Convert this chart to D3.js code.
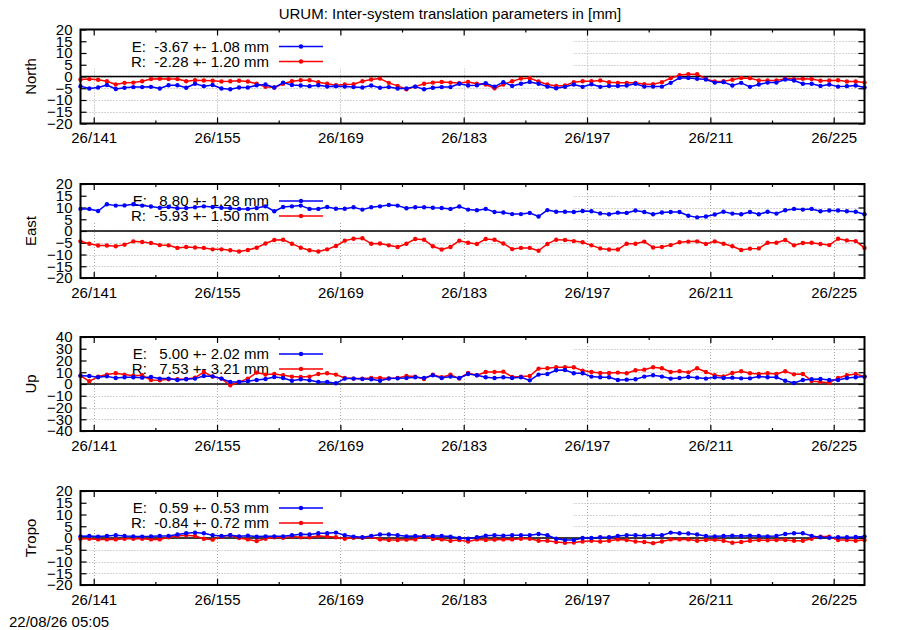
<!DOCTYPE html>
<html><head><meta charset="utf-8">
<script src="https://cdn.jsdelivr.net/npm/d3@7"></script>
<style>
body{margin:0;background:#fff}
svg{display:block}
text{font-family:"Liberation Sans",Arial,Helvetica,sans-serif;fill:#000}
</style>
</head><body>
<svg id="c" width="900" height="630"></svg>
<script>
// ---------------- data ----------------
const days = [139.5,140.5,141.5,142.5,143.5,144.5,145.5,146.5,147.5,148.5,149.5,150.5,151.5,152.5,153.5,154.5,155.5,156.5,157.5,158.5,159.5,160.5,161.5,162.5,163.5,164.5,165.5,166.5,167.5,168.5,169.5,170.5,171.5,172.5,173.5,174.5,175.5,176.5,177.5,178.5,179.5,180.5,181.5,182.5,183.5,184.5,185.5,186.5,187.5,188.5,189.5,190.5,191.5,192.5,193.5,194.5,195.5,196.5,197.5,198.5,199.5,200.5,201.5,202.5,203.5,204.5,205.5,206.5,207.5,208.5,209.5,210.5,211.5,212.5,213.5,214.5,215.5,216.5,217.5,218.5,219.5,220.5,221.5,222.5,223.5,224.5,225.5,226.5,227.5,228.5];

const northE = [-4.1,-5.1,-4.7,-3.6,-5.3,-4.8,-4.5,-4.5,-4.4,-5.1,-3.7,-3.7,-4.8,-3.1,-4.1,-3.6,-5.1,-5.4,-4.7,-4.7,-3.7,-3.4,-4.7,-2.6,-3.6,-3.8,-4.1,-3.7,-4.3,-4.1,-4.3,-4.5,-4.7,-3.8,-4.8,-4.5,-5.1,-5.1,-4.3,-5.4,-4.8,-4.5,-4.5,-3.1,-3.8,-3.7,
  -2.8,-4.3,-2.4,-4.0,-3.1,-2.3,-3.1,-4.3,-5.0,-4.4,-3.4,-4.4,-3.3,-4.4,-4.0,-4.0,-3.8,-3.1,-4.3,-4.3,-4.3,-2.7,-0.6,-0.6,-1.0,-1.3,-2.6,-2.4,-3.8,-2.7,-4.4,-3.4,-2.6,-2.6,-1.3,-1.7,-3.1,-3.1,-4.0,-3.4,-4.3,-4.1,-3.8,-4.7];
const northR = [-1.3,-1.1,-1.4,-2.0,-3.4,-2.7,-2.6,-2.0,-1.1,-1.0,-1.1,-1.1,-2.0,-1.6,-1.7,-1.8,-2.1,-2.0,-1.8,-2.1,-3.1,-4.4,-4.7,-3.1,-2.0,-1.6,-1.6,-2.4,-3.1,-3.7,-3.4,-3.3,-2.0,-1.3,-0.9,-2.7,-4.0,-5.4,-4.3,-3.1,-2.6,-2.3,-2.6,-2.8,-2.3,-3.1,
  -3.4,-5.0,-3.4,-2.0,-0.9,-0.7,-2.1,-3.4,-4.0,-3.8,-2.4,-2.0,-2.0,-1.7,-2.4,-2.7,-2.7,-2.7,-3.3,-3.3,-2.4,-0.7,0.6,1.0,1.0,-1.0,-2.1,-2.0,-1.4,-0.6,-0.7,-1.7,-1.7,-1.7,-0.9,-1.1,-1.0,-1.1,-1.8,-1.7,-1.6,-2.1,-2.1,-2.6];
const eastE = [9.4,9.4,8.5,11.4,10.8,10.9,11.4,10.8,10.4,9.9,10.2,9.7,9.8,10.1,10.5,10.2,9.9,9.7,9.4,9.4,9.8,10.5,8.4,10.2,10.5,10.8,9.4,9.4,10.2,9.5,9.5,10.1,9.1,10.1,10.5,11.1,10.8,9.7,10.1,10.1,9.9,9.8,9.4,10.4,9.1,8.8,
  9.4,8.1,7.9,7.2,7.2,7.7,6.2,8.9,8.2,8.2,8.1,8.5,8.4,7.5,7.1,7.8,7.7,8.7,8.1,7.1,7.9,8.1,8.1,6.5,5.8,6.2,7.0,8.2,7.4,7.1,8.1,7.1,8.2,7.4,8.8,9.4,9.1,9.4,8.4,8.7,8.7,8.4,8.2,7.1];
const eastR = [-4.4,-5.4,-6.2,-6.2,-6.5,-5.8,-4.4,-4.7,-5.1,-6.0,-6.1,-7.2,-6.8,-7.0,-7.2,-7.8,-7.8,-8.2,-8.7,-8.1,-7.1,-5.3,-3.8,-3.7,-5.4,-7.1,-8.2,-8.7,-7.8,-6.4,-4.1,-3.3,-3.1,-5.4,-5.3,-6.1,-6.8,-5.4,-3.4,-3.7,-6.5,-7.9,-6.8,-4.1,-5.0,-5.5,
  -3.4,-3.7,-5.3,-7.7,-7.2,-7.2,-8.4,-5.5,-3.7,-3.8,-4.3,-4.8,-6.1,-7.4,-7.9,-7.9,-5.4,-5.4,-4.5,-7.0,-6.8,-6.0,-4.8,-4.5,-4.4,-5.5,-4.4,-5.4,-6.5,-8.1,-7.5,-7.4,-5.0,-5.0,-3.8,-6.1,-5.1,-5.0,-5.5,-6.0,-3.3,-4.0,-4.3,-7.2];
const upE = [7.1,6.8,5.7,6.5,5.1,5.7,5.7,5.4,6.0,4.6,4.6,3.4,4.0,4.6,6.8,6.5,4.6,1.7,1.7,2.3,3.4,4.3,6.0,5.1,2.8,4.0,3.1,1.7,1.7,0.6,4.6,4.6,4.3,4.0,2.8,4.6,4.8,5.1,5.7,5.1,7.4,5.1,6.3,5.1,8.5,7.4,
  5.7,5.1,5.7,5.1,5.7,3.1,8.0,8.5,11.7,11.9,9.1,9.1,6.3,5.7,5.7,3.4,3.7,4.0,6.3,7.4,6.3,4.6,5.1,6.0,5.4,4.6,5.7,5.1,5.4,4.8,4.8,6.3,5.7,5.7,2.8,0.9,3.4,4.0,4.3,3.4,3.4,5.1,5.7,6.3];
const upR = [7.1,2.3,6.3,8.0,9.1,8.0,7.1,7.4,3.4,3.1,4.0,4.0,4.3,5.4,10.2,6.3,4.6,-1.1,1.7,4.6,9.7,8.0,8.5,7.4,6.3,6.0,6.3,8.5,9.1,8.0,5.1,4.6,4.6,5.1,5.1,4.8,5.1,6.8,6.3,4.3,8.0,5.7,8.0,4.6,9.4,7.4,
  10.2,10.2,10.5,6.0,6.3,6.8,13.1,13.4,14.2,14.2,14.2,11.4,10.2,9.4,9.4,9.7,9.1,11.7,12.2,14.2,13.4,10.2,10.8,9.9,13.4,10.2,7.4,6.5,9.4,10.8,9.1,8.5,9.1,8.5,10.8,8.2,8.5,2.6,1.7,1.1,5.1,7.4,8.5,6.3];
const tropoE = [0.7,0.9,0.6,0.9,1.2,0.9,0.7,0.6,0.7,0.9,0.9,1.5,2.0,2.3,2.0,1.2,0.9,1.2,0.7,1.0,0.6,0.7,0.7,0.7,1.2,1.6,1.5,2.0,2.0,2.3,1.2,0.6,0.3,0.9,1.5,1.5,1.2,0.7,0.9,0.7,0.9,0.9,0.6,0.0,-0.3,0.3,
  1.0,1.2,1.0,1.2,1.2,1.2,1.7,1.2,-0.3,-0.9,-0.9,0.0,0.0,0.3,0.3,0.9,1.2,1.2,1.0,1.2,1.2,2.3,2.0,1.9,1.5,0.9,0.7,0.9,1.0,0.9,1.0,0.9,0.7,0.9,1.7,2.0,2.0,0.9,0.3,0.1,0.3,0.3,0.4,0.6];
const tropoR = [-0.3,-0.3,-0.6,-0.6,-0.6,-0.3,-0.3,-0.3,-0.6,-0.6,0.3,0.9,1.2,0.9,-0.3,-0.7,0.6,1.2,0.0,-0.6,-1.3,-0.3,0.3,0.1,0.6,0.3,0.3,0.9,0.6,0.3,-0.3,0.1,0.1,0.4,-0.6,-0.9,-0.9,-0.7,-0.6,0.9,-0.4,-0.6,-1.2,-0.9,-1.5,-0.6,
  -0.9,-0.7,-0.6,-0.6,-0.3,-0.3,-1.2,-1.2,-1.7,-2.0,-1.9,-1.5,-1.2,-1.5,-1.2,-0.6,-0.9,-1.5,-1.7,-2.2,-1.5,-0.6,-0.6,-0.6,-1.2,-0.9,-0.7,-1.2,-2.0,-1.7,-1.2,-0.9,-1.0,-0.9,-0.9,-1.2,-1.2,-0.3,0.6,0.6,-0.9,-0.9,-1.2,-0.9];

const panelNames = ["North","East","Up","Tropo"];
const legendE = ["E:  -3.67 +- 1.08 mm","E:   8.80 +- 1.28 mm","E:   5.00 +- 2.02 mm","E:   0.59 +- 0.53 mm"];
const legendR = ["R:  -2.28 +- 1.20 mm","R:  -5.93 +- 1.50 mm","R:   7.53 +- 3.21 mm","R:  -0.84 +- 0.72 mm"];
const yTicks20 = [-20,-15,-10,-5,0,5,10,15,20];
const yTicks40 = [-40,-30,-20,-10,0,10,20,30,40];
const xTickDays = [141,155,169,183,197,211,225];
const xTickLabels = ["26/141","26/155","26/169","26/183","26/197","26/211","26/225"];
const xMinorDays = [148,162,176,190,204,218];
const titleText = "URUM: Inter-system translation parameters in [mm]";
const stampText = "22/08/26 05:05";

// ---------------- drawing ----------------
const svg = d3.select("#c");
const FS = 15;
const L = 80.5, R = 864.5, PH = 94;
const tops = [29.5, 184, 337, 491];
const KEYW = 573, KEYH = 39;
const colE = "#0000ff", colR = "#ff0000";

const x = d3.scaleLinear().domain([days[0], days[days.length-1]]).range([L, R]);

const panels = [
  {E: northE, R: northR, ticks: yTicks20},
  {E: eastE,  R: eastR,  ticks: yTicks20},
  {E: upE,    R: upR,    ticks: yTicks40},
  {E: tropoE, R: tropoR, ticks: yTicks40 && yTicks20}
];

svg.append("text").attr("x", 450).attr("y", 19).attr("text-anchor","middle")
  .style("font-size", FS+"px").text(titleText);
svg.append("text").attr("x", 9).attr("y", 627).style("font-size", FS+"px").text(stampText);

panels.forEach((p, i) => {
  const top = tops[i];
  const g = svg.append("g");
  const y = d3.scaleLinear().domain([p.ticks[0], p.ticks[p.ticks.length-1]]).range([top+PH, top]);

  // grid
  const grid = g.append("g").attr("stroke","#a8a8a8").attr("stroke-width",1).attr("stroke-dasharray","1,2");
  p.ticks.slice(1,-1).forEach(t => {
    grid.append("line").attr("x1",L).attr("x2",R).attr("y1",Math.round(y(t))+0.5).attr("y2",Math.round(y(t))+0.5);
  });
  xTickDays.forEach(d => {
    grid.append("line").attr("x1",Math.round(x(d))+0.5).attr("x2",Math.round(x(d))+0.5).attr("y1",top).attr("y2",top+PH);
  });

  // opaque key area
  g.append("rect").attr("x",L).attr("y",top).attr("width",KEYW-L).attr("height",KEYH).attr("fill","#fff");

  // zero line
  g.append("line").attr("x1",L).attr("x2",R).attr("y1",y(0)).attr("y2",y(0))
    .attr("stroke","#000").attr("stroke-width",1.6);

  // axes
  const axL = d3.axisLeft(y).tickValues(p.ticks).tickSize(-6).tickPadding(8);
  const gl = g.append("g").attr("transform",`translate(${L},0)`).call(axL);
  const axR = d3.axisRight(y).tickValues(p.ticks).tickSize(-6).tickFormat("");
  g.append("g").attr("transform",`translate(${R},0)`).call(axR);
  const axB = d3.axisBottom(x).tickValues(xTickDays).tickSize(-6).tickPadding(9)
    .tickFormat((d,j) => xTickLabels[j]);
  g.append("g").attr("transform",`translate(0,${top+PH})`).call(axB);
  const axT = d3.axisTop(x).tickValues(xTickDays).tickSize(-6).tickFormat("");
  g.append("g").attr("transform",`translate(0,${top})`).call(axT);
  g.append("g").attr("transform",`translate(0,${top+PH})`).call(d3.axisBottom(x).tickValues(xMinorDays).tickSize(-3).tickFormat(""));
  g.append("g").attr("transform",`translate(0,${top})`).call(d3.axisTop(x).tickValues(xMinorDays).tickSize(-3).tickFormat(""));
  g.selectAll(".domain").remove();
  g.selectAll(".tick line").attr("stroke","#000").attr("stroke-width",1.2);
  g.selectAll(".tick text").style("font-size",FS+"px").style("font-family",'"Liberation Sans",Arial,sans-serif').attr("fill","#000");

  // y label
  g.append("text").attr("transform",`translate(36,${top+PH/2}) rotate(-90)`)
    .attr("text-anchor","middle").style("font-size",FS+"px").text(panelNames[i]);

  // legend
  const rows = [{t: legendE[i], c: colE, dy: 17}, {t: legendR[i], c: colR, dy: 32}];
  rows.forEach(r => {
    g.append("text").attr("x",269).attr("y",top+r.dy).attr("dy","0.36em")
      .attr("text-anchor","end").attr("xml:space","preserve").style("white-space","pre")
      .style("font-size",FS+"px").text(r.t);
    g.append("line").attr("x1",279).attr("x2",323).attr("y1",top+r.dy).attr("y2",top+r.dy)
      .attr("stroke",r.c).attr("stroke-width",1.5);
    g.append("circle").attr("cx",301).attr("cy",top+r.dy).attr("r",2.2).attr("fill",r.c);
  });

  // data
  const line = d3.line().x((d,j) => x(days[j])).y(d => y(d));
  [{v: p.R, c: colR}, {v: p.E, c: colE}].forEach(s => {
    g.append("path").datum(s.v).attr("d", line).attr("fill","none")
      .attr("stroke", s.c).attr("stroke-width",1.5).attr("stroke-linejoin","round");
    g.append("g").selectAll("circle").data(s.v).join("circle")
      .attr("cx",(d,j) => x(days[j])).attr("cy", d => y(d)).attr("r",2.2).attr("fill", s.c);
  });

  // border
  g.append("rect").attr("x",L).attr("y",top).attr("width",R-L).attr("height",PH)
    .attr("fill","none").attr("stroke","#000").attr("stroke-width",2);
});
</script>
</body></html>
